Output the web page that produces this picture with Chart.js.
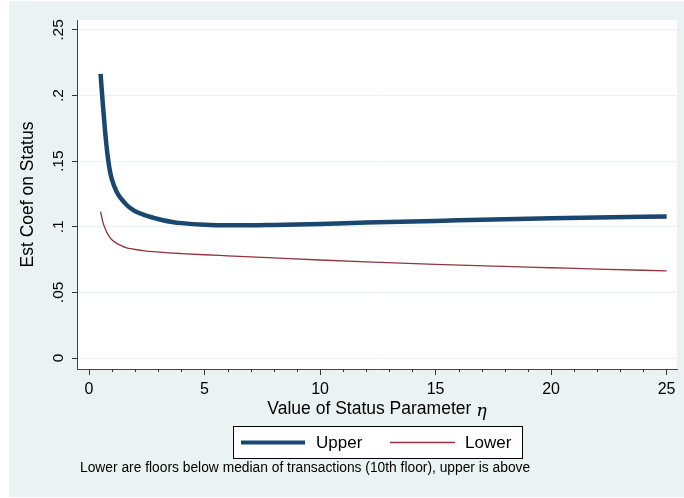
<!DOCTYPE html>
<html>
<head>
<meta charset="utf-8">
<script src="https://cdn.jsdelivr.net/npm/chart.js@4/dist/chart.umd.min.js"></script>
<style>
  html, body { margin: 0; padding: 0; background: #fff; }
  canvas { display: block; }
</style>
</head>
<body>
<canvas id="chart" width="684" height="498"></canvas>
<script>
const eta = [0.5, 0.6, 0.7, 0.8, 0.9, 1.0, 1.2, 1.4, 1.6, 1.8, 2.0, 2.4, 2.8, 3.2, 3.6, 4, 5, 6, 7, 8, 10, 12, 15, 18, 20, 22, 25];
const upperCoef = [0.2165, 0.193, 0.172, 0.155, 0.143, 0.1355, 0.1265, 0.1212, 0.1172, 0.1141, 0.1118, 0.1089, 0.1068, 0.1050, 0.1037, 0.1028, 0.1015, 0.1011, 0.1011, 0.1014, 0.1022, 0.1032, 0.1045, 0.1058, 0.1065, 0.1071, 0.1078];
const lowerCoef = [0.1115, 0.1035, 0.0985, 0.0948, 0.0920, 0.0900, 0.0874, 0.0856, 0.0841, 0.0833, 0.0827, 0.0817, 0.0810, 0.0805, 0.0800, 0.0796, 0.0787, 0.0779, 0.0771, 0.0763, 0.0747, 0.0733, 0.0714, 0.0698, 0.0688, 0.0678, 0.0664];

const yTickValues = [0, 0.05, 0.1, 0.15, 0.2, 0.25];
const yTickLabels = ['0', '.05', '.1', '.15', '.2', '.25'];
const seriesNames = ['Upper', 'Lower'];
const xTitle = 'Value of Status Parameter ';
const xTitleSymbol = 'η';
const yTitle = 'Est Coef on Status';
const note = 'Lower are floors below median of transactions (10th floor), upper is above';

const navy = '#1a476f';
const maroon = '#90353b';
const bgBlue = '#eaf2f3';
const FONT = '"Liberation Sans", Arial, Helvetica, sans-serif';

const decor = {
    id: 'decor',
    beforeDraw(chart) {
        const ctx = chart.ctx;
        const a = chart.chartArea;
        ctx.save();
        ctx.fillStyle = '#fff';
        ctx.fillRect(0, 0, chart.width, chart.height);
        ctx.fillStyle = bgBlue;
        ctx.fillRect(9, 1, chart.width - 9, chart.height - 2);
        ctx.fillStyle = '#fff';
        ctx.fillRect(a.left, a.top, a.right - a.left, a.bottom - a.top);
        ctx.restore();
    },
    afterDraw(chart) {
        const ctx = chart.ctx;
        const a = chart.chartArea;
        const xs = chart.scales.x;
        const ys = chart.scales.y;
        ctx.save();

        // rotated y tick labels
        ctx.fillStyle = '#000';
        ctx.font = '15.5px ' + FONT;
        ctx.textAlign = 'center';
        ctx.textBaseline = 'middle';
        yTickValues.forEach((v, i) => {
            const py = ys.getPixelForValue(v);
            ctx.save();
            ctx.translate(59, py);
            ctx.rotate(-Math.PI / 2);
            ctx.fillText(yTickLabels[i], 0, 0);
            ctx.restore();
        });

        // minor x ticks
        ctx.strokeStyle = '#333';
        ctx.lineWidth = 1;
        for (let v = 1; v < 25; v++) {
            if (v % 5 === 0) continue;
            const px = Math.round(xs.getPixelForValue(v)) + 0.5;
            ctx.beginPath();
            ctx.moveTo(px, a.bottom);
            ctx.lineTo(px, a.bottom + 3);
            ctx.stroke();
        }

        // x axis title with italic eta
        ctx.textAlign = 'left';
        ctx.textBaseline = 'middle';
        ctx.font = '17.5px ' + FONT;
        const w1 = ctx.measureText(xTitle).width;
        ctx.font = 'italic 17.5px "DejaVu Serif", serif';
        const w2 = ctx.measureText(xTitleSymbol).width;
        const cx = (a.left + a.right) / 2;
        const tx = cx - (w1 + w2) / 2;
        ctx.font = '17.5px ' + FONT;
        ctx.fillText(xTitle, tx, 409);
        ctx.font = 'italic 17.5px "DejaVu Serif", serif';
        ctx.fillText(xTitleSymbol, tx + w1, 411);

        // legend
        ctx.fillStyle = '#fff';
        ctx.fillRect(233, 426, 289, 32);
        ctx.strokeStyle = '#000';
        ctx.lineWidth = 1;
        ctx.strokeRect(233.5, 426.5, 289, 32);
        const items = [
            { name: seriesNames[0], color: navy, width: 4, x0: 241, x1: 305, tx: 316 },
            { name: seriesNames[1], color: maroon, width: 1.3, x0: 390, x1: 455, tx: 465 }
        ];
        items.forEach(it => {
            ctx.strokeStyle = it.color;
            ctx.lineWidth = it.width;
            ctx.beginPath();
            ctx.moveTo(it.x0, 442.5);
            ctx.lineTo(it.x1, 442.5);
            ctx.stroke();
            ctx.fillStyle = '#000';
            ctx.font = '17px ' + FONT;
            ctx.fillText(it.name, it.tx, 443);
        });

        // note
        ctx.font = '13.8px ' + FONT;
        ctx.fillText(note, 80, 468);
        ctx.restore();
    }
};

new Chart(document.getElementById('chart'), {
    type: 'line',
    data: {
        datasets: [
            {
                label: seriesNames[0],
                data: eta.map((x, i) => ({ x: x, y: upperCoef[i] })),
                borderColor: navy,
                borderWidth: 4.5,
                pointRadius: 0,
                cubicInterpolationMode: 'monotone',
                fill: false
            },
            {
                label: seriesNames[1],
                data: eta.map((x, i) => ({ x: x, y: lowerCoef[i] })),
                borderColor: maroon,
                borderWidth: 1.3,
                pointRadius: 0,
                cubicInterpolationMode: 'monotone',
                fill: false
            }
        ]
    },
    options: {
        responsive: false,
        animation: false,
        devicePixelRatio: 1,
        layout: { padding: { left: 0, top: 20, right: 7, bottom: 0 } },
        plugins: {
            legend: { display: false },
            tooltip: { enabled: false }
        },
        scales: {
            x: {
                type: 'linear',
                min: -0.52,
                max: 25.45,
                afterFit: s => { s.height = 129; },
                ticks: {
                    stepSize: 5,
                    includeBounds: false,
                    color: '#000',
                    font: { family: FONT, size: 16 },
                    padding: 5,
                    maxRotation: 0,
                    callback: v => (v % 5 === 0 ? String(v) : '')
                },
                grid: { drawOnChartArea: false, tickLength: 6, tickColor: '#333' },
                border: { color: '#444', width: 1 }
            },
            y: {
                type: 'linear',
                min: -0.00838,
                max: 0.2576,
                afterFit: s => { s.width = 77; },
                afterBuildTicks: s => { s.ticks = yTickValues.map(v => ({ value: v })); },
                ticks: { display: false },
                grid: { color: bgBlue, lineWidth: 1, tickLength: 5, tickColor: '#333' },
                border: { color: '#444', width: 1 },
                title: {
                    display: true,
                    text: yTitle,
                    color: '#000',
                    font: { family: FONT, size: 17.5 },
                    padding: { top: 17.5, bottom: 0 }
                }
            }
        }
    },
    plugins: [decor]
});
</script>
</body>
</html>
